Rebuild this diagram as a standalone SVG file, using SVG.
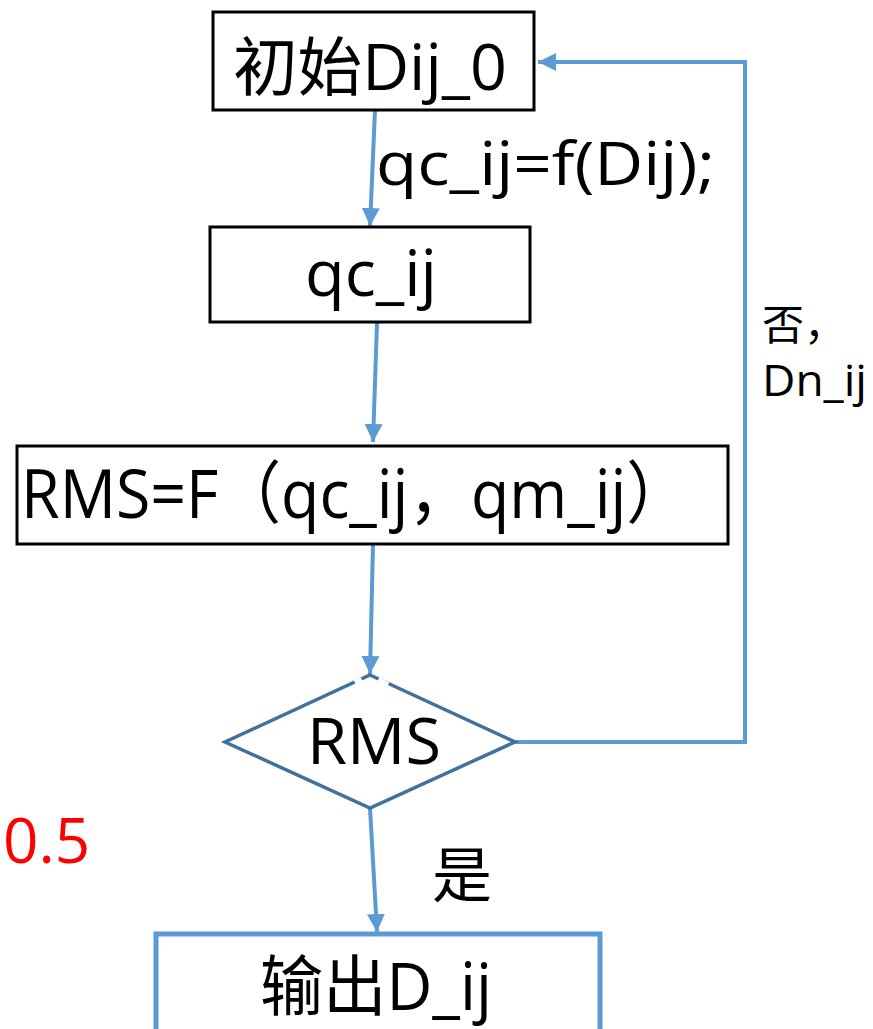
<svg xmlns="http://www.w3.org/2000/svg" width="873" height="1029" viewBox="0 0 873 1029">
  <defs>
    <style>
      .box { fill: #fff; stroke: #000; stroke-width: 3; }
      .txt { font-family: "Open Sans", "Noto Sans CJK SC", sans-serif; fill: #000; }
      .link { fill: none; stroke: #5B9BD5; stroke-width: 4; }
    </style>
    <marker id="arrow" markerUnits="userSpaceOnUse" markerWidth="20" markerHeight="20" viewBox="0 0 20 20" refX="18" refY="10" orient="auto">
      <path d="M0,1 L18,10 L0,19 Z" fill="#5B9BD5"/>
    </marker>
  </defs>

  <rect width="873" height="1029" fill="#fff"/>

  <!-- connectors -->
  <g id="connectors">
    <path class="link" d="M375,110 L370,226" marker-end="url(#arrow)"/>
    <path class="link" d="M377,323 L373,442" marker-end="url(#arrow)"/>
    <path class="link" d="M373,544 L370,674" marker-end="url(#arrow)"/>
    <path class="link" d="M370,808 L377,932" marker-end="url(#arrow)"/>
    <path class="link" d="M515,742 L745,742 L745,62 L538,62" marker-end="url(#arrow)"/>
    <text class="txt" x="376" y="185" font-size="60" textLength="339" lengthAdjust="spacingAndGlyphs">qc_ij=f(Dij);</text>
    <text class="txt" x="432" y="897" font-size="60">是</text>
    <text class="txt" x="762" y="340" font-size="42">否，</text>
    <text class="txt" x="762" y="396" font-size="44" textLength="105" lengthAdjust="spacingAndGlyphs">Dn_ij</text>
  </g>

  <g id="init">
    <rect class="box" x="213" y="12" width="321" height="98"/>
    <text class="txt" x="233" y="90" font-size="64" textLength="274" lengthAdjust="spacingAndGlyphs">初始Dij_0</text>
  </g>

  <g id="qc">
    <rect class="box" x="210" y="227" width="320" height="95"/>
    <text class="txt" x="305" y="296" font-size="64" textLength="132" lengthAdjust="spacingAndGlyphs">qc_ij</text>
  </g>

  <g id="rms-calc">
    <rect class="box" x="17" y="446" width="711" height="98"/>
    <text class="txt" x="21" y="518" font-size="68" textLength="668" lengthAdjust="spacingAndGlyphs">RMS=F（qc_ij，qm_ij）</text>
  </g>

  <g id="decision">
    <path d="M370,675 L515,742 L370,808 L225,742 Z" fill="#fff" stroke="#41719C" stroke-width="3.5"/>
    <path d="M355,683 L362,680 M378,680 L388,685" stroke="#fff" stroke-width="6"/>
    <text class="txt" x="307" y="764" font-size="64" textLength="134" lengthAdjust="spacingAndGlyphs">RMS</text>
  </g>

  <g id="threshold">
    <text x="3" y="863" font-family="Open Sans, sans-serif" font-size="62" fill="#FF0000">0.5</text>
  </g>

  <g id="output">
    <rect x="156" y="934" width="444" height="110" fill="#fff" stroke="#5B9BD5" stroke-width="5"/>
    <text class="txt" x="260" y="1010" font-size="66" textLength="232" lengthAdjust="spacingAndGlyphs">输出D_ij</text>
  </g>
</svg>
